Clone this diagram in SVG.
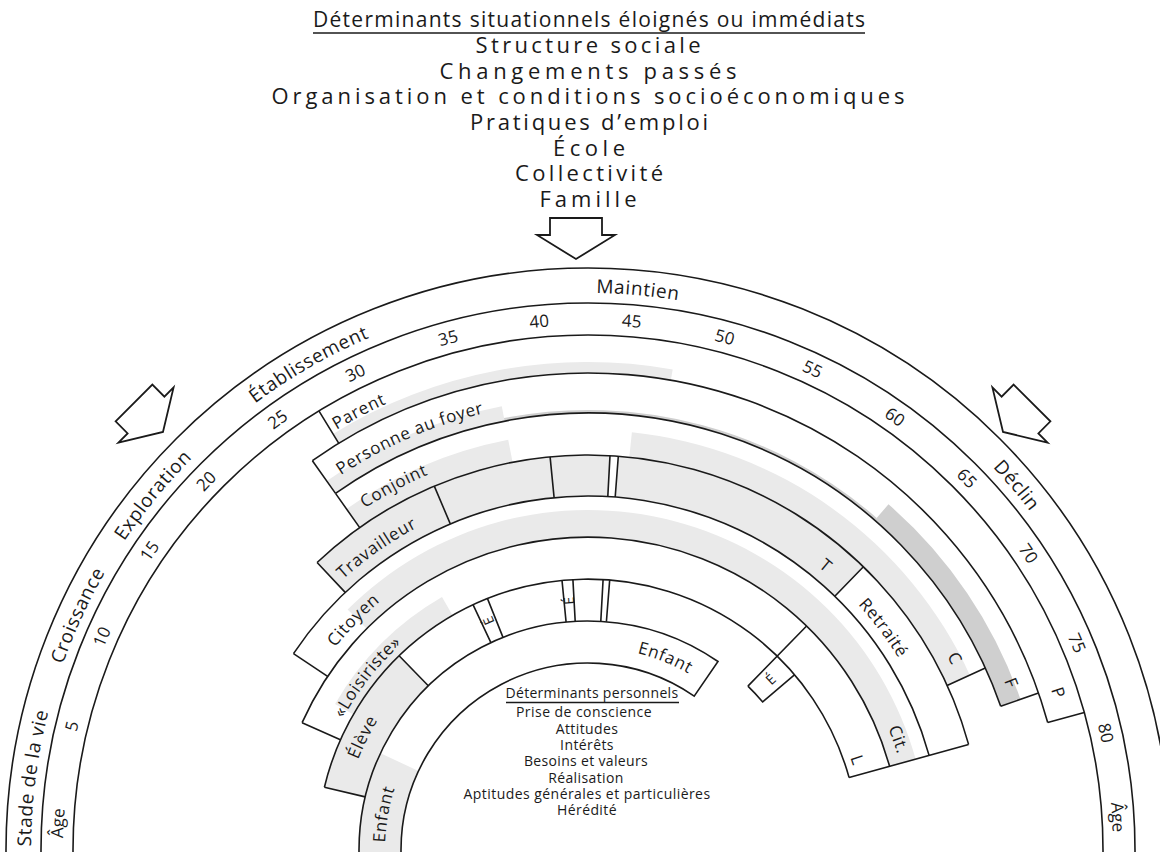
<svg xmlns="http://www.w3.org/2000/svg" width="1160" height="852" viewBox="0 0 1160 852">
<style>
.t{font-family:"Open Sans","Liberation Sans",sans-serif;fill:#1a1a1a}
.ttl{font-size:21px}
.hdr{font-size:22px}
.stage{font-size:19px;letter-spacing:0.6px}
.age{font-size:17px}
.role{font-size:17px;letter-spacing:0.7px}
.ltr{font-size:17px}
.e{font-size:14px}
.pers{font-size:14px;letter-spacing:0.4px}
.ln{fill:none;stroke:#1a1a1a;stroke-width:1.6;stroke-linejoin:miter}
.sh{fill:#eaeaea}
.sh2{fill:#cfcfcf}
.arrow{fill:#fff;stroke:#1a1a1a;stroke-width:1.8;stroke-linejoin:miter}
</style>
<defs>
<path id="a557" d="M 31 850 A 557 557 0 0 1 1145 850"/>
<path id="a525" d="M 63 850 A 525 525 0 0 1 1113 850"/>
<path id="a490" d="M 98 850 A 490 490 0 0 1 1078 850"/>
<path id="a449" d="M 139 850 A 449 449 0 0 1 1037 850"/>
<path id="a408" d="M 180 850 A 408 408 0 0 1 996 850"/>
<path id="a365" d="M 223 850 A 365 365 0 0 1 953 850"/>
<path id="a324" d="M 264 850 A 324 324 0 0 1 912 850"/>
<path id="a278" d="M 310 850 A 278 278 0 0 1 866 850"/>
<path id="a247" d="M 341 850 A 247 247 0 0 1 835 850"/>
<path id="a203" d="M 385 850 A 203 203 0 0 1 791 850"/>
<path id="arr" d="M -26 -17 L 26 -17 L 26 0 L 39 0 L 0 24 L -39 0 L -26 0 Z"/>
</defs>
<rect width="1160" height="852" fill="#fff"/>

<g id="determinants-situationnels">
<text class="t ttl" x="589" y="27" text-anchor="middle" textLength="552" lengthAdjust="spacing">Déterminants situationnels éloignés ou immédiats</text>
<line class="ln" x1="313" y1="33" x2="865" y2="33" stroke-width="1.4"/>
<text class="t hdr" x="588" y="53" text-anchor="middle" textLength="225" lengthAdjust="spacing">Structure sociale</text>
<text class="t hdr" x="588" y="79" text-anchor="middle" textLength="297" lengthAdjust="spacing">Changements passés</text>
<text class="t hdr" x="588" y="104" text-anchor="middle" textLength="633" lengthAdjust="spacing">Organisation et conditions socioéconomiques</text>
<text class="t hdr" x="589" y="130" text-anchor="middle" textLength="238" lengthAdjust="spacing">Pratiques d’emploi</text>
<text class="t hdr" x="589" y="156" text-anchor="middle" textLength="72" lengthAdjust="spacing">École</text>
<text class="t hdr" x="589" y="181" text-anchor="middle" textLength="148" lengthAdjust="spacing">Collectivité</text>
<text class="t hdr" x="588" y="207" text-anchor="middle" textLength="97" lengthAdjust="spacing">Famille</text>
</g>

<g id="shading">
<path class="sh" d="M 359 853 L 359 850 A 229 229 0 0 1 380.5 753.2 L 418.5 771.0 A 187 187 0 0 0 401 850 L 401 853 Z"/>
<path class="sh" d="M 324.4 787.2 A 271 271 0 0 1 399.1 655.7 L 428.3 685.8 A 229 229 0 0 0 365.2 796.9 Z"/>
<path class="sh" d="M 335.1 704.0 A 292 292 0 0 1 442.0 597.1 L 452.5 615.3 A 271 271 0 0 0 353.3 714.5 Z"/>
<path class="sh" d="M 347.6 609.6 A 340 340 0 0 1 915.6 759.1 L 889.6 766.4 A 313 313 0 0 0 366.7 628.7 Z"/>
<path class="sh" d="M 317.1 562.5 A 395 395 0 0 1 610.0 455.6 L 607.8 496.6 A 354 354 0 0 0 345.2 592.4 Z"/>
<path class="sh" d="M 618.3 456.2 A 395 395 0 0 1 863.4 566.8 L 834.8 596.2 A 354 354 0 0 0 615.2 497.0 Z"/>
<path class="sh" d="M 346.5 508.9 A 418 418 0 0 1 508.2 439.7 L 512.6 462.3 A 395 395 0 0 0 359.7 527.6 Z"/>
<path class="sh" d="M 631.9 432.3 A 420 420 0 0 1 969.9 675.2 L 947.1 685.6 A 395 395 0 0 0 629.3 457.2 Z"/>
<path class="sh" d="M 326.8 481.1 A 452 452 0 0 1 501.8 406.3 L 504.6 421.0 A 437 437 0 0 0 335.5 493.4 Z"/>
<path class="sh2" d="M 504.0 418.1 A 440 440 0 0 1 876.7 517.9 L 874.7 520.2 A 437 437 0 0 0 504.6 421.0 Z"/>
<path class="sh2" d="M 888.5 504.3 A 458 458 0 0 1 1020.5 699.4 L 1000.7 706.3 A 437 437 0 0 0 874.7 520.2 Z"/>
<path class="sh" d="M 333.0 433.9 A 488 488 0 0 1 672.7 369.4 L 670.8 380.2 A 477 477 0 0 0 338.8 443.3 Z"/>
</g>

<g id="stades-de-la-vie">
<path class="ln" d="M 6 853 L 6 850 A 582 582 0 0 1 1170 850 L 1170 853"/>
<path class="ln" d="M 41 853 L 41 850 A 547 547 0 0 1 1135 850 L 1135 853"/>
<text class="t stage" text-anchor="middle"><textPath href="#a557" startOffset="71.9">Stade de la vie</textPath></text>
<text class="t stage" text-anchor="middle"><textPath href="#a557" startOffset="240.1">Croissance</textPath></text>
<text class="t stage" text-anchor="middle"><textPath href="#a557" startOffset="381.1">Exploration</textPath></text>
<text class="t stage" text-anchor="middle"><textPath href="#a557" startOffset="584.3">Établissement</textPath></text>
<text class="t stage" text-anchor="middle"><textPath href="#a557" startOffset="924.5">Maintien</textPath></text>
<text class="t stage" text-anchor="middle"><textPath href="#a557" startOffset="1357.1">Déclin</textPath></text>
</g>

<g id="ages">
<path class="ln" d="M 73 853 L 73 850 A 515 515 0 0 1 1103 850 L 1103 853"/>
<text class="t age" text-anchor="middle"><textPath href="#a525" startOffset="26.6">Âge</textPath></text>
<text class="t age" text-anchor="middle"><textPath href="#a525" startOffset="123.7">5</textPath></text>
<text class="t age" text-anchor="middle"><textPath href="#a525" startOffset="217.2">10</textPath></text>
<text class="t age" text-anchor="middle"><textPath href="#a525" startOffset="314.3">15</textPath></text>
<text class="t age" text-anchor="middle"><textPath href="#a525" startOffset="403.2">20</textPath></text>
<text class="t age" text-anchor="middle"><textPath href="#a525" startOffset="496.6">25</textPath></text>
<text class="t age" text-anchor="middle"><textPath href="#a525" startOffset="586.4">30</textPath></text>
<text class="t age" text-anchor="middle"><textPath href="#a525" startOffset="684.5">35</textPath></text>
<text class="t age" text-anchor="middle"><textPath href="#a525" startOffset="776.1">40</textPath></text>
<text class="t age" text-anchor="middle"><textPath href="#a525" startOffset="867.7">45</textPath></text>
<text class="t age" text-anchor="middle"><textPath href="#a525" startOffset="961.2">50</textPath></text>
<text class="t age" text-anchor="middle"><textPath href="#a525" startOffset="1053.7">55</textPath></text>
<text class="t age" text-anchor="middle"><textPath href="#a525" startOffset="1148.1">60</textPath></text>
<text class="t age" text-anchor="middle"><textPath href="#a525" startOffset="1241.6">65</textPath></text>
<text class="t age" text-anchor="middle"><textPath href="#a525" startOffset="1337.8">70</textPath></text>
<text class="t age" text-anchor="middle"><textPath href="#a525" startOffset="1438.6">75</textPath></text>
<text class="t age" text-anchor="middle"><textPath href="#a525" startOffset="1532.0">80</textPath></text>
<text class="t age" text-anchor="middle"><textPath href="#a525" startOffset="1616.3">Âge</textPath></text>
</g>

<g id="role-parent">
<path class="ln" d="M 318.9 410.9 L 338.8 443.3 M 1047.7 722.5 L 1084.3 712.4"/>
<path class="ln" d="M 312.4 460.7 A 477 477 0 0 1 1047.7 722.5"/>
<text class="t role" text-anchor="middle"><textPath href="#a490" startOffset="533.7">Parent</textPath></text>
<text class="t ltr" text-anchor="middle"><textPath href="#a490" startOffset="1380.3">P</textPath></text>
</g>

<g id="role-personne-au-foyer">
<path class="ln" d="M 312.4 460.7 L 335.5 493.4 M 1000.7 706.3 L 1038.5 693.1"/>
<path class="ln" d="M 335.5 493.4 A 437 437 0 0 1 1000.7 706.3"/>
<text class="t role" text-anchor="middle"><textPath href="#a449" startOffset="521.9">Personne au foyer</textPath></text>
<text class="t ltr" text-anchor="middle"><textPath href="#a449" startOffset="1241.3">F</textPath></text>
</g>

<g id="role-conjoint">
<path class="ln" d="M 335.5 493.4 L 359.7 527.6 M 947.1 685.6 L 985.3 668.1"/>
<path class="ln" d="M 317.1 562.5 A 395 395 0 0 1 968.6 744.4"/>
<text class="t role" text-anchor="middle"><textPath href="#a408" startOffset="440.8">Conjoint</textPath></text>
<text class="t ltr" text-anchor="middle"><textPath href="#a408" startOffset="1084.5">C</textPath></text>
</g>

<g id="role-travailleur">
<path class="ln" d="M 317.1 562.5 L 345.2 592.4 M 434.3 486.1 L 450.3 523.9 M 550.1 456.8 L 554.1 497.6 M 610.0 455.6 L 607.8 496.6 M 618.3 456.2 L 615.2 497.0 M 863.4 566.8 L 834.8 596.2 M 849.1 777.6 L 968.6 744.4"/>
<path class="ln" d="M 293.5 653.6 A 354 354 0 0 1 929.1 755.4"/>
<text class="t role" text-anchor="middle"><textPath href="#a365" startOffset="350.4">Travailleur</textPath></text>
<text class="t ltr" text-anchor="middle"><textPath href="#a365" startOffset="826.9">T</textPath></text>
<text class="t role" text-anchor="middle"><textPath href="#a365" startOffset="911.0">Retraité</textPath></text>
</g>

<g id="role-citoyen">
<path class="ln" d="M 293.5 653.6 L 327.6 676.3"/>
<path class="ln" d="M 302.1 722.7 A 313 313 0 0 1 889.6 766.4"/>
<text class="t role" text-anchor="middle"><textPath href="#a324" startOffset="251.1">Citoyen</textPath></text>
<text class="t role" text-anchor="middle"><textPath href="#a324" startOffset="906.5">Cit.</textPath></text>
</g>

<g id="role-loisiriste">
<path class="ln" d="M 302.1 722.7 L 340.4 739.8 M 747.9 686.1 L 806.6 626.0"/>
<path class="ln" d="M 324.4 787.2 A 271 271 0 0 1 849.1 777.6"/>
<text class="t role" text-anchor="middle"><textPath href="#a278" startOffset="184.9">«Loisiriste»</textPath></text>
<text class="t ltr" text-anchor="middle"><textPath href="#a278" startOffset="783.1">L</textPath></text>
</g>

<g id="role-eleve">
<path class="ln" d="M 324.4 787.2 L 365.2 796.9 M 399.1 655.7 L 428.3 685.8 M 473.0 604.6 L 490.9 642.6 M 487.4 598.4 L 503.0 637.4 M 562.0 580.3 L 566.1 622.1 M 572.9 579.4 L 575.2 621.4 M 603.1 579.4 L 600.8 621.4 M 609.7 579.9 L 606.4 621.7"/>
<path class="ln" d="M 747.9 686.1 A 229 229 0 0 1 762.7 701.9 L 794.7 674.7"/>
<text class="t role" text-anchor="middle"><textPath href="#a247" startOffset="114.7">Élève</textPath></text>
<text class="t e" text-anchor="middle" dy="5" transform="translate(488.5,620.6) rotate(-113.45)">É</text>
<text class="t e" text-anchor="middle" dy="5" transform="translate(569.0,600.7) rotate(-94.35)">É</text>
<text class="t e" text-anchor="middle" dy="5" transform="translate(770.8,679.5) rotate(-43)">É</text>
</g>

<g id="role-enfant">
<path class="ln" d="M 359 853 L 359 850 A 229 229 0 0 1 718.0 661.5 L 694.2 696.1 A 187 187 0 0 0 401 850 L 401 853"/>
<text class="t role" text-anchor="middle"><textPath href="#a203" startOffset="35.1">Enfant</textPath></text>
<text class="t role" text-anchor="middle"><textPath href="#a203" startOffset="396.3">Enfant</textPath></text>
</g>

<g id="determinants-personnels">
<text class="t pers" x="592" y="698" text-anchor="middle" textLength="173" lengthAdjust="spacing">Déterminants personnels</text>
<line class="ln" x1="506" y1="702.5" x2="679" y2="702.5" stroke-width="1.2"/>
<text class="t pers" x="584" y="717" text-anchor="middle" textLength="136" lengthAdjust="spacing">Prise de conscience</text>
<text class="t pers" x="587" y="734" text-anchor="middle">Attitudes</text>
<text class="t pers" x="587" y="750" text-anchor="middle">Intérêts</text>
<text class="t pers" x="586" y="766" text-anchor="middle" textLength="124" lengthAdjust="spacing">Besoins et valeurs</text>
<text class="t pers" x="586" y="783" text-anchor="middle">Réalisation</text>
<text class="t pers" x="587" y="799" text-anchor="middle" textLength="247" lengthAdjust="spacing">Aptitudes générales et particulières</text>
<text class="t pers" x="587" y="815" text-anchor="middle">Hérédité</text>
</g>

<g id="connectors">
<use href="#arr" class="arrow" transform="translate(576,235)"/>
<use href="#arr" class="arrow" transform="translate(146,415) rotate(-45)"/>
<use href="#arr" class="arrow" transform="translate(1020,415) rotate(45)"/>
</g>
</svg>
